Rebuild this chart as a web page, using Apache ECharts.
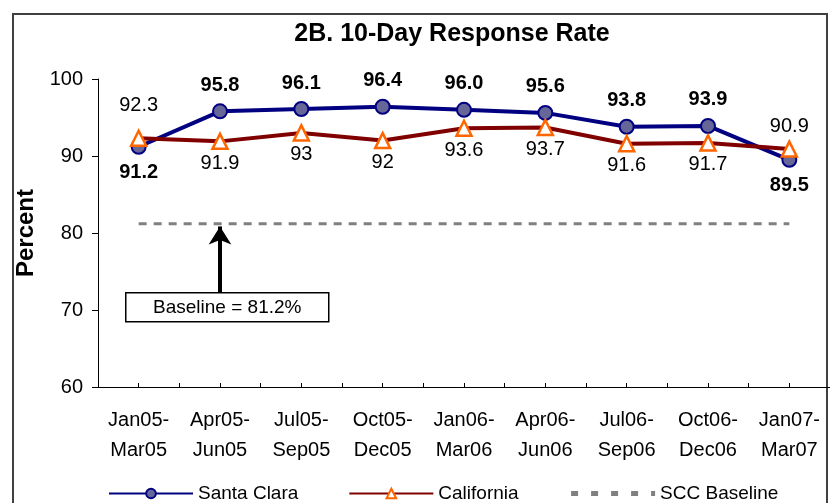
<!DOCTYPE html>
<html>
<head>
<meta charset="utf-8">
<script src="https://cdn.jsdelivr.net/npm/echarts@6/dist/echarts.min.js"></script>
<style>
html,body{margin:0;padding:0;background:#fff;}
#chart{width:830px;height:503px;}
</style>
</head>
<body>
<div id="chart"></div>
<script>
const categories = ['Jan05-\nMar05','Apr05-\nJun05','Jul05-\nSep05','Oct05-\nDec05','Jan06-\nMar06','Apr06-\nJun06','Jul06-\nSep06','Oct06-\nDec06','Jan07-\nMar07'];
const santaClara = [91.2, 95.8, 96.1, 96.4, 96.0, 95.6, 93.8, 93.9, 89.5];
const california = [92.3, 91.9, 93, 92, 93.6, 93.7, 91.6, 91.7, 90.9];
const sccBaseline = [81.2, 81.2, 81.2, 81.2, 81.2, 81.2, 81.2, 81.2, 81.2];
const santaClaraLabelPos = ['bottom','top','top','top','top','top','top','top','bottom'];
const californiaLabelPos = ['top','bottom','bottom','bottom','bottom','bottom','bottom','bottom','top'];
const californiaLabelGap = [14, 3, 3, 3, 3, 3, 3, 3, 4];
const baselineNote = 'Baseline = 81.2%';
const baselineValue = 81.2;
const yMin = 60, yMax = 100, yStep = 10;

const FONT = '"Liberation Sans", Arial, sans-serif';
const chart = echarts.init(document.getElementById('chart'));

const minorCats = [];
for (let i = 0; i < categories.length * 2; i++) minorCats.push(String(i));

const scData = santaClara.map((v, i) => ({
  value: v,
  label: { position: santaClaraLabelPos[i], distance: 8 }
}));
const caData = california.map((v, i) => ({
  value: v,
  label: { position: californiaLabelPos[i], distance: californiaLabelGap[i] }
}));

const option = {
  animation: false,
  backgroundColor: '#ffffff',
  textStyle: { fontFamily: FONT, color: '#000' },
  title: {
    text: '2B. 10-Day Response Rate',
    left: 447, top: 17, textAlign: 'center',
    textStyle: { fontFamily: FONT, fontSize: 25, fontWeight: 'bold', color: '#000' }
  },
  legend: {
    left: 103, top: 479,
    itemWidth: 84, itemHeight: 12, itemGap: 50,
    textStyle: { fontFamily: FONT, fontSize: 19, color: '#000' },
    data: [
      { name: 'Santa Clara' },
      { name: 'California' },
      { name: 'SCC Baseline', itemStyle: { opacity: 0 }, lineStyle: { width: 5, type: [7, 13] } }
    ]
  },
  grid: { left: 98, top: 79, right: 0, bottom: 116, containLabel: false },
  xAxis: [{
    type: 'category',
    data: categories,
    boundaryGap: true,
    axisLine: { show: true, lineStyle: { color: '#000', width: 1 } },
    axisTick: { show: false },
    axisLabel: { fontFamily: FONT, fontSize: 20, color: '#000', margin: 18, lineHeight: 30, interval: 0 }
  }, {
    type: 'category',
    data: minorCats,
    position: 'bottom',
    boundaryGap: true,
    axisLine: { show: false },
    axisTick: { show: true, inside: true, length: 4, interval: 0, lineStyle: { color: '#000' } },
    axisLabel: { show: false }
  }],
  yAxis: {
    type: 'value',
    min: yMin, max: yMax, interval: yStep,
    name: 'Percent',
    nameLocation: 'middle',
    nameGap: 52,
    nameRotate: 90,
    nameTextStyle: { fontFamily: FONT, fontSize: 24, fontWeight: 'bold', color: '#000' },
    axisLine: { show: true, lineStyle: { color: '#000', width: 1 } },
    axisTick: { show: true, length: 6, lineStyle: { color: '#000' } },
    axisLabel: { fontFamily: FONT, fontSize: 20, color: '#000', margin: 15 },
    splitLine: { show: false }
  },
  series: [{
    name: 'Santa Clara',
    type: 'line',
    data: scData,
    z: 3,
    symbol: 'circle',
    symbolSize: 14,
    lineStyle: { color: '#000080', width: 4 },
    itemStyle: { color: '#666699', borderColor: '#000080', borderWidth: 2 },
    label: {
      show: true, fontFamily: FONT, fontSize: 20, fontWeight: 'bold', color: '#000',
      formatter: p => p.value.toFixed(1)
    }
  }, {
    name: 'California',
    type: 'line',
    data: caData,
    z: 4,
    symbol: 'triangle',
    symbolSize: 15,
    lineStyle: { color: '#800000', width: 4 },
    itemStyle: { color: '#ffffff', borderColor: '#FF6600', borderWidth: 2.5 },
    label: {
      show: true, fontFamily: FONT, fontSize: 20, color: '#000',
      formatter: p => String(p.value)
    }
  }, {
    name: 'SCC Baseline',
    type: 'line',
    data: sccBaseline,
    z: 2,
    symbol: 'none',
    lineStyle: { color: '#808080', width: 3, type: [8, 7] },
    itemStyle: { color: '#808080' },
    markLine: {
      silent: true,
      symbol: ['none', 'arrow'],
      symbolSize: [17, 18],
      label: { show: false },
      lineStyle: { color: '#000', width: 4, type: 'solid' },
      data: [[
        { coord: [1, 72.3] },
        { coord: [1, baselineValue - 0.35] }
      ]]
    }
  }],
  graphic: [{
    type: 'rect',
    shape: { x: 13, y: 14, width: 814, height: 520 },
    style: { fill: 'none', stroke: '#404040', lineWidth: 2 },
    silent: true, z: -1
  }, {
    type: 'group',
    left: 125, top: 292,
    children: [{
      type: 'rect',
      shape: { x: 0, y: 0, width: 203, height: 29 },
      style: { fill: '#fff', stroke: '#000', lineWidth: 1.5 }
    }, {
      type: 'text',
      x: 101.5, y: 15,
      style: { text: baselineNote, font: '19px ' + FONT, fill: '#000', textAlign: 'center', textVerticalAlign: 'middle' }
    }]
  }]
};
chart.setOption(option);
</script>
</body>
</html>
